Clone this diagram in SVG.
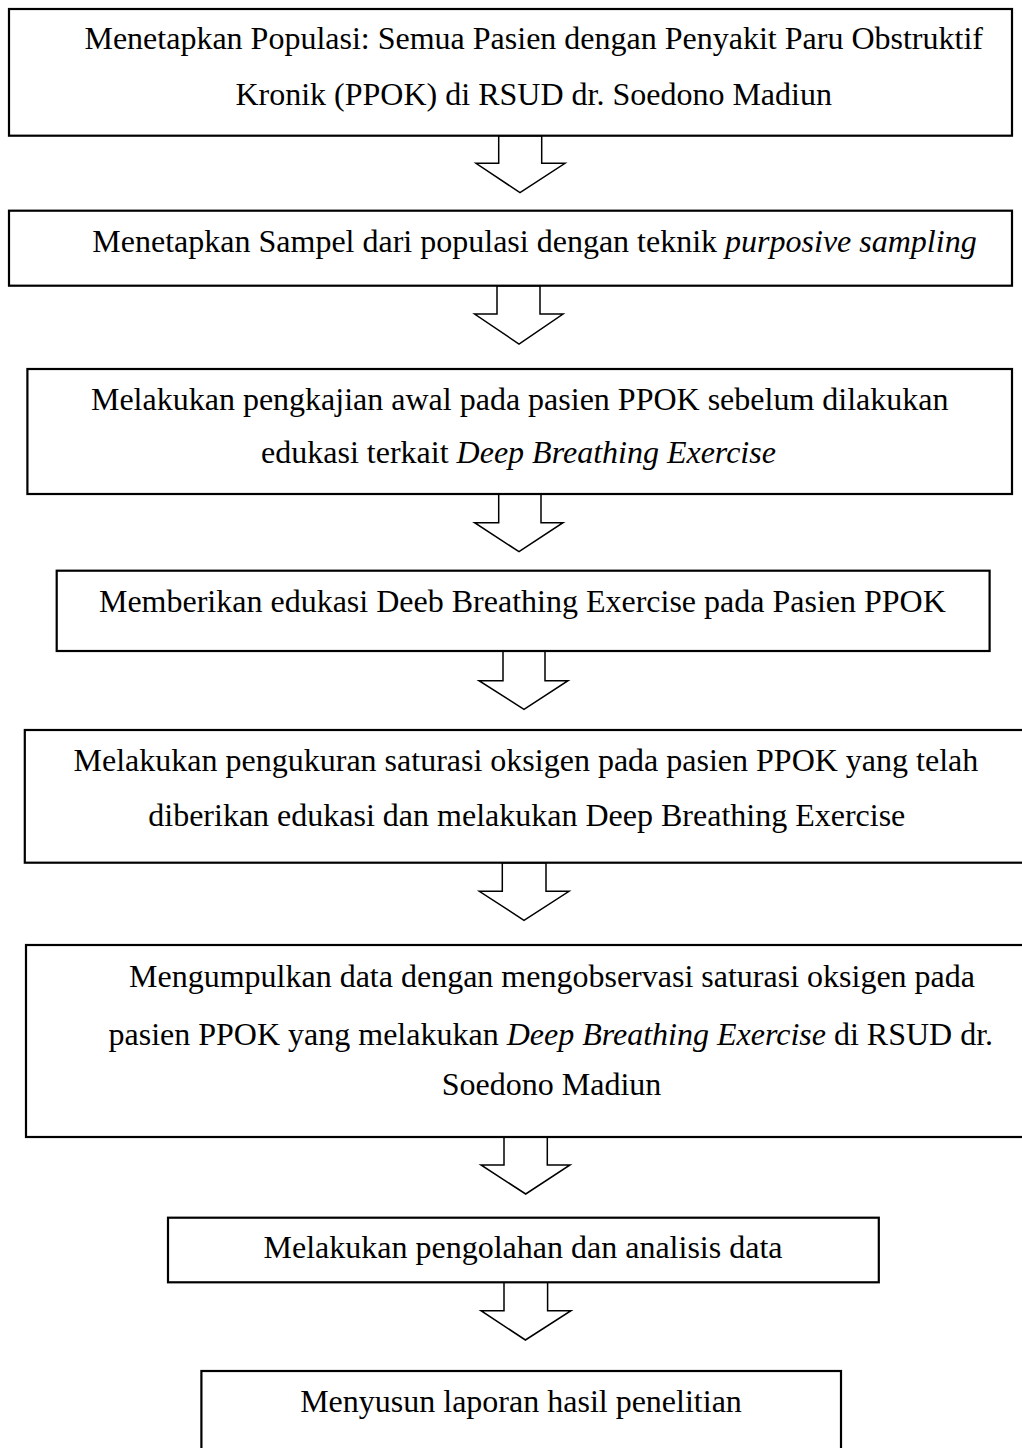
<svg xmlns="http://www.w3.org/2000/svg" width="1022" height="1448" viewBox="0 0 1022 1448">
<style>
.box{fill:#fff;stroke:#000;stroke-width:2.2}
.arr{fill:#fff;stroke:#000;stroke-width:1.5;stroke-linejoin:miter}
text{font-family:"Liberation Serif","Times New Roman",serif;font-size:32px;fill:#000;text-anchor:middle}
.i{font-style:italic}
</style>
<rect width="1022" height="1448" fill="#fff"/>
<g id="connectors">
<polygon class="arr" points="498.7,135.7 541.7,135.7 541.7,163.3 565,163.3 520,192.7 476,163.3 498.7,163.3"/>
<polygon class="arr" points="497,285.7 540,285.7 540,314 563,314 519,344 474.6,314 497,314"/>
<polygon class="arr" points="498.7,494 541,494 541,522.7 563,522.7 519,551.7 474.6,522.7 498.7,522.7"/>
<polygon class="arr" points="503,651 545,651 545,680.7 568,680.7 524,709.3 479,680.7 503,680.7"/>
<polygon class="arr" points="502.3,862.7 546,862.7 546,891.3 569,891.3 524,920.3 479.3,891.3 502.3,891.3"/>
<polygon class="arr" points="504,1137 547.3,1137 547.3,1165 570,1165 525.7,1194 481,1165 504,1165"/>
<polygon class="arr" points="504,1282.3 547.6,1282.3 547.6,1310.7 571,1310.7 525.4,1340 481,1310.7 504,1310.7"/>
</g>
<g id="n1">
<rect class="box" x="9" y="9" width="1003" height="126.7"/>
<text x="533.7" y="49.3">Menetapkan Populasi: Semua Pasien dengan Penyakit Paru Obstruktif</text>
<text x="533.7" y="105">Kronik (PPOK) di RSUD dr. Soedono Madiun</text>
</g>
<g id="n2">
<rect class="box" x="9" y="210.7" width="1003" height="75"/>
<text x="534.5" y="251.7">Menetapkan Sampel dari populasi dengan teknik <tspan class="i">purposive sampling</tspan></text>
</g>
<g id="n3">
<rect class="box" x="27.4" y="369" width="984.6" height="125"/>
<text x="519.7" y="410">Melakukan pengkajian awal pada pasien PPOK sebelum dilakukan</text>
<text x="518.5" y="463.3">edukasi terkait <tspan class="i">Deep Breathing Exercise</tspan></text>
</g>
<g id="n4">
<rect class="box" x="56.7" y="570.7" width="932.9" height="80.3"/>
<text x="522.4" y="611.7">Memberikan edukasi Deeb Breathing Exercise pada Pasien PPOK</text>
</g>
<g id="n5">
<rect class="box" x="24.8" y="730" width="1010" height="132.7"/>
<text x="525.9" y="770.7">Melakukan pengukuran saturasi oksigen pada pasien PPOK yang telah</text>
<text x="526.8" y="826">diberikan edukasi dan melakukan Deep Breathing Exercise</text>
</g>
<g id="n6">
<rect class="box" x="26" y="945" width="1010" height="192"/>
<text x="552" y="986.7">Mengumpulkan data dengan mengobservasi saturasi oksigen pada</text>
<text x="550.8" y="1045">pasien PPOK yang melakukan <tspan class="i">Deep Breathing Exercise</tspan> di RSUD dr.</text>
<text x="551.5" y="1095">Soedono Madiun</text>
</g>
<g id="n7">
<rect class="box" x="168" y="1217.7" width="710.8" height="64.6"/>
<text x="523" y="1258.3">Melakukan pengolahan dan analisis data</text>
</g>
<g id="n8">
<rect class="box" x="201.4" y="1371" width="639.6" height="100"/>
<text x="521" y="1412">Menyusun laporan hasil penelitian</text>
</g>
</svg>
